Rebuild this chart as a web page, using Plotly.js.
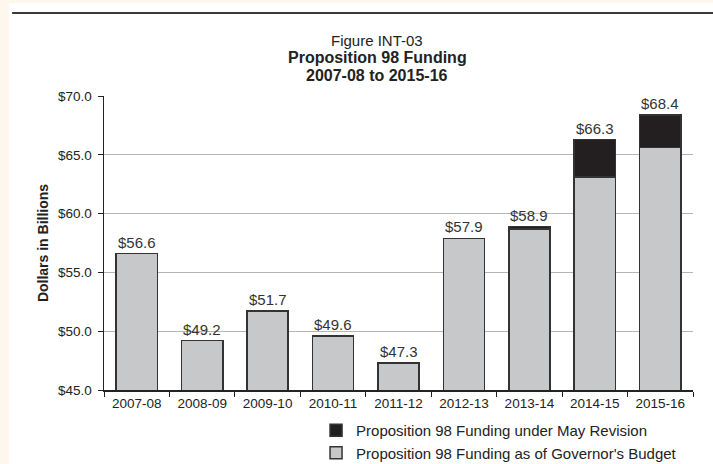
<!DOCTYPE html>
<html>
<head>
<meta charset="utf-8">
<script src="https://cdn.plot.ly/plotly-3.0.1.min.js"></script>
<style>
html,body{margin:0;padding:0;background:#fef7ed;width:713px;height:464px;overflow:hidden;}
#chart{position:absolute;left:9px;top:3px;width:704px;height:461px;}
</style>
</head>
<body>
<div id="chart"></div>
<script>
const years = ["2007-08","2008-09","2009-10","2010-11","2011-12","2012-13","2013-14","2014-15","2015-16"];
const governorsBudget = [56.6, 49.2, 51.7, 49.6, 47.3, 57.9, 58.7, 63.1, 65.6];
const mayRevisionAdded = [0, 0, 0, 0, 0, 0, 0.2, 3.2, 2.8];
const totals = [56.6, 49.2, 51.7, 49.6, 47.3, 57.9, 58.9, 66.3, 68.4];
const yTicks = [45, 50, 55, 60, 65, 70];
const yTickLabels = ["$45.0","$50.0","$55.0","$60.0","$65.0","$70.0"];

const FONT = "Liberation Sans, Arial, sans-serif";
const traces = [
  {type:"bar", x:years, y:governorsBudget, name:"Proposition 98 Funding as of Governor's Budget",
   marker:{color:"#c7c8ca", line:{color:"#333333", width:1.5}}, hoverinfo:"skip"},
  {type:"bar", x:years, y:mayRevisionAdded, name:"Proposition 98 Funding under May Revision",
   marker:{color:"#231f20", line:{color:"#333333", width:1.5}}, hoverinfo:"skip"}
];

const annotations = years.map((yr,i)=>({
  x: yr, y: totals[i], xref:"x", yref:"y", text:"$"+totals[i].toFixed(1),
  showarrow:false, yanchor:"bottom", yshift:1, font:{family:FONT, size:15, color:"#333"}
}));
annotations.push(
  {xref:"paper", yref:"paper", x:0.4635, y:1.190, text:"Figure INT-03", showarrow:false, yanchor:"middle",
   font:{family:FONT, size:15, color:"#222"}},
  {xref:"paper", yref:"paper", x:0.4635, y:1.130, text:"<b>Proposition 98 Funding</b>", showarrow:false, yanchor:"middle",
   font:{family:FONT, size:16, color:"#222"}},
  {xref:"paper", yref:"paper", x:0.4635, y:1.070, text:"<b>2007-08 to 2015-16</b>", showarrow:false, yanchor:"middle",
   font:{family:FONT, size:16, color:"#222"}}
);

const layout = {
  width:704, height:461,
  margin:{l:95, r:20, t:93, b:74, autoexpand:false},
  paper_bgcolor:"#ffffff", plot_bgcolor:"#ffffff",
  barmode:"stack", bargap:0.37,
  font:{family:FONT, color:"#222"},
  showlegend:true,
  legend:{x:0.36, y:-0.082, xanchor:"left", yanchor:"top", traceorder:"reversed",
          font:{family:FONT, size:15, color:"#222"}, bgcolor:"rgba(0,0,0,0)", tracegroupgap:0},
  xaxis:{type:"category", showline:true, linecolor:"#222", linewidth:1.5, ticks:"outside", tickson:"boundaries",
         ticklen:5, tickcolor:"#222", tickfont:{family:FONT, size:13.5, color:"#222"}, showgrid:false, fixedrange:true},
  yaxis:{range:[45,70], tickvals:yTicks, ticktext:yTickLabels, showline:true, linecolor:"#222", linewidth:1.5,
         ticks:"outside", ticklen:5, tickcolor:"#222", gridcolor:"#b5b5b5", gridwidth:1, zeroline:false,
         ticklabelstandoff:3,
         tickfont:{family:FONT, size:13.5, color:"#222"},
         title:{text:"<b>Dollars in Billions</b>", font:{family:FONT, size:14, color:"#222"}, standoff:6}, fixedrange:true},
  shapes:[{type:"line", xref:"paper", yref:"paper", x0:-0.156, x1:1.04, y0:1.282, y1:1.282,
           line:{color:"#3a3a3a", width:2}}],
  annotations: annotations
};
Plotly.newPlot("chart", traces, layout, {displayModeBar:false, staticPlot:true});
</script>
</body>
</html>
